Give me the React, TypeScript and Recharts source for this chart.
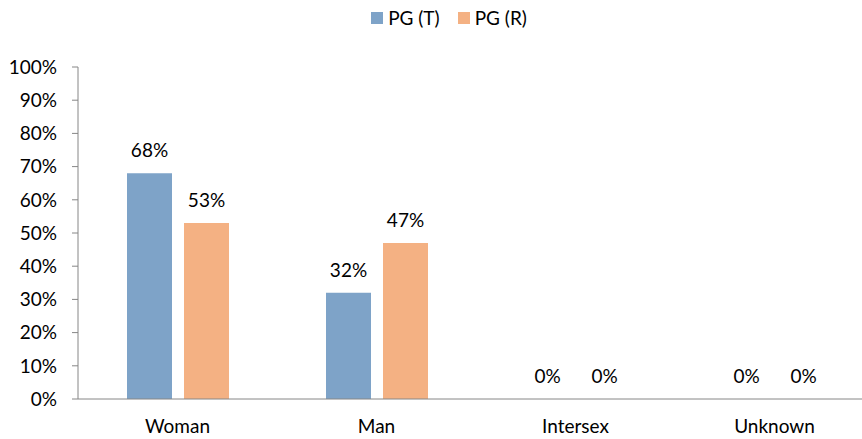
import React from 'react';
import { BarChart, Bar, XAxis, YAxis, Legend, LabelList } from 'recharts';

const categories = ['Woman', 'Man', 'Intersex', 'Unknown'];
const pgT = [68, 32, 0, 0];
const pgR = [53, 47, 0, 0];
const yTicks = [0, 10, 20, 30, 40, 50, 60, 70, 80, 90, 100];

const series = [
  { key: 't', name: 'PG (T)', color: '#7EA3C8' },
  { key: 'r', name: 'PG (R)', color: '#F4B183' }
];

const data = categories.map((name, i) => ({ name, t: pgT[i], r: pgR[i] }));

const FONT = 'Lato, sans-serif';
const AXIS = '#868686';

const renderLegend = () => <div style={{
  display: 'flex',
  justifyContent: 'center',
  fontFamily: FONT,
  fontSize: 19,
  color: '#000',
  lineHeight: '20px',
  paddingLeft: 24
}}>
    {series.map(s => <div key={s.key} style={{ display: 'flex', alignItems: 'center', margin: '0 9px' }}>
        <span style={{ display: 'inline-block', width: 12, height: 12, background: s.color, marginRight: 5 }} />
        <span>{s.name}</span>
      </div>)}
  </div>;

const App: React.FC = () => {
  return <div style={{ position: 'absolute', left: 0, top: 0, width: 862, height: 439, background: '#fff', overflow: 'hidden' }}>
      <BarChart width={862} height={439} data={data} barSize={45} barGap={12} margin={{
      top: 47,
      right: -12,
      left: 0,
      bottom: 0
    }}>
        <Legend verticalAlign="top" align="center" content={renderLegend} wrapperStyle={{
        top: 8
      }} />
        <XAxis dataKey="name" height={40} tickLine={false} tickSize={0} tickMargin={21} axisLine={{
        stroke: AXIS
      }} tick={{
        fill: '#000',
        fontFamily: FONT,
        fontSize: 19
      }} />
        <YAxis width={78} domain={[0, 100]} ticks={yTicks} interval={0} tickSize={6} tickMargin={15} tickFormatter={v => `${v}%`} axisLine={{
        stroke: AXIS
      }} tickLine={{
        stroke: AXIS
      }} tick={{
        fill: '#000',
        fontFamily: FONT,
        fontSize: 19
      }} />
        {series.map(s => <Bar key={s.key} dataKey={s.key} name={s.name} fill={s.color} minPointSize={0.01} isAnimationActive={false}>
            <LabelList dataKey={s.key} position="top" offset={16} formatter={(v: any) => `${v}%`} style={{
          fill: '#000',
          fontFamily: FONT,
          fontSize: 19
        }} />
          </Bar>)}
      </BarChart>
    </div>;
};

export default App;
